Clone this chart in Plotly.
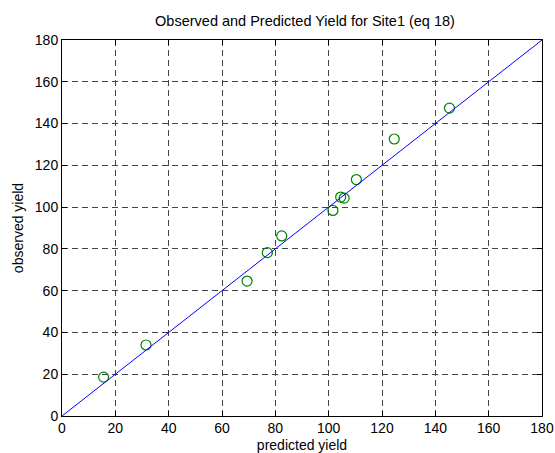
import plotly.graph_objects as go

predicted = [15.6, 31.5, 69.4, 77.0, 82.4, 101.6, 104.5, 105.8, 110.4, 124.6, 145.3]
observed = [18.6, 34.0, 64.6, 78.2, 86.2, 98.4, 104.8, 104.3, 113.2, 132.6, 147.4]
fit_x = [0, 180]
fit_y = [0, 180]
ticks = [0, 20, 40, 60, 80, 100, 120, 140, 160, 180]

FONT = "Liberation Sans, Arial"

fig = go.Figure()
fig.add_trace(go.Scatter(x=predicted, y=observed, mode="markers",
                         marker=dict(symbol="circle-open", size=10, color="#008000",
                                     line=dict(width=1.2, color="#008000")),
                         showlegend=False, cliponaxis=False))
fig.add_trace(go.Scatter(x=fit_x, y=fit_y, mode="lines",
                         line=dict(color="#0000ff", width=1), showlegend=False))

axis_common = dict(range=[0, 180], tickvals=ticks, ticks="inside", ticklen=5,
                   tickcolor="black", showline=True, linecolor="black", linewidth=1,
                   mirror="ticks", showgrid=True, gridcolor="#444444", gridwidth=1,
                   griddash="6px,4px", zeroline=False, automargin=False,
                   tickfont=dict(family=FONT, size=14, color="black"))

fig.update_xaxes(**axis_common, ticklabelstandoff=-1,
                 title=dict(text="predicted yield", standoff=11,
                            font=dict(family=FONT, size=14, color="black")))
fig.update_yaxes(**axis_common,
                 title=dict(text="observed yield", standoff=7,
                            font=dict(family=FONT, size=14, color="black")))

fig.update_layout(
    width=555, height=453,
    margin=dict(l=62, r=13, t=40, b=37),
    paper_bgcolor="white", plot_bgcolor="white",
    title=dict(text="Observed and Predicted Yield for Site1 (eq 18)", automargin=False,
               x=305 / 555, xanchor="center", y=1 - 21 / 453, yanchor="middle",
               font=dict(family=FONT, size=14.5, color="black")),
)

fig.write_html("out.html", config={"displayModeBar": False},
               post_script="document.body.style.margin='0px';document.body.style.overflow='hidden';")
